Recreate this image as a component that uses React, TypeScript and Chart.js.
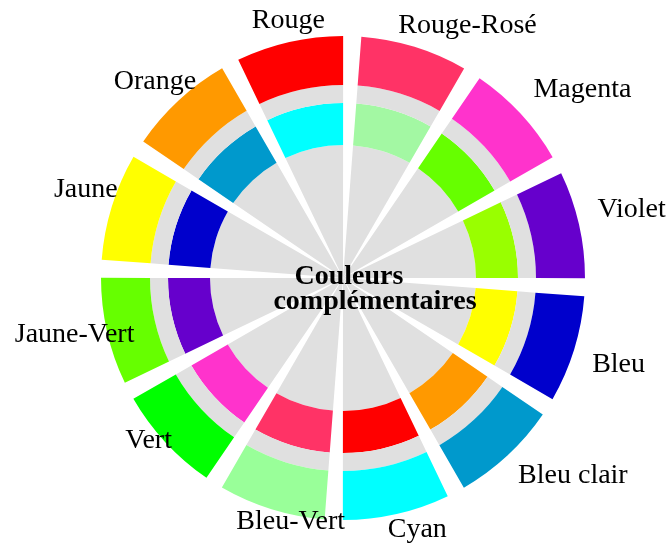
import React, { useEffect, useRef } from "react";
import { Chart, registerables } from "chart.js";

Chart.register(...registerables);

// Clockwise from the top gap
const colorNames = [
  "Rouge-Rosé", "Magenta", "Violet", "Bleu", "Bleu clair", "Cyan",
  "Bleu-Vert", "Vert", "Jaune-Vert", "Jaune", "Orange", "Rouge",
];
const outerColors = [
  "#ff3366", "#ff33cc", "#6600cc", "#0000cc", "#0099cc", "#00ffff",
  "#99ff99", "#00ff00", "#66ff00", "#ffff00", "#ff9900", "#ff0000",
];
const complementColors = [
  "#a3f8a3", "#66ff00", "#99ff00", "#ffff00", "#ff9900", "#ff0000",
  "#ff3366", "#ff33cc", "#6600cc", "#0000cc", "#0099cc", "#00ffff",
];
const sliceValues = [1, 1, 1, 1, 1, 1, 1, 1, 1, 1, 1, 1];
const gapValue = 0.168;
const titleLines = ["Couleurs", "complémentaires"];

const GREY = "#e0e0e0";
const SERIF = '"Liberation Serif", "Times New Roman", serif';
// small per-label placement nudges (px) around the computed anchor
const LABEL_NUDGE: [number, number][] = [
  [-23, -1], [-4, -10], [-4, -11], [-4, 7], [-5, 2], [-14, -8],
  [26, -11], [0, -19], [-10, -4], [-4, -12], [-8, -4], [4, -1],
];

function interleave(values: number[]) {
  const out: number[] = [];
  values.forEach((v) => {
    out.push(v);
    out.push(gapValue);
  });
  return out;
}
function colorsWithGaps(cols: string[]) {
  const out: string[] = [];
  cols.forEach((c) => {
    out.push(c);
    out.push("rgba(255,255,255,0)");
  });
  return out;
}

const labelPlugin = {
  id: "wheelLabels",
  afterDraw(chart: any) {
    const ctx = chart.ctx;
    const meta = chart.getDatasetMeta(0);
    ctx.save();
    ctx.fillStyle = "#000";
    ctx.font = `28px ${SERIF}`;
    ctx.textBaseline = "alphabetic";
    let cx = 0, cy = 0;
    colorNames.forEach((name, i) => {
      const arc: any = meta.data[i * 2];
      if (!arc) return;
      const props = arc.getProps(["x", "y", "startAngle", "endAngle", "outerRadius"], true);
      cx = props.x; cy = props.y;
      const mid = (props.startAngle + props.endAngle) / 2;
      const r = props.outerRadius + 23;
      const ax = props.x + r * Math.cos(mid);
      const ay = props.y + r * Math.sin(mid);
      const [nx, ny] = LABEL_NUDGE[i];
      ctx.textAlign = Math.cos(mid) > 0 ? "left" : "center";
      ctx.fillText(name, ax + nx, ay + 9 + ny);
    });
    ctx.font = `bold 28px ${SERIF}`;
    ctx.textAlign = "center";
    ctx.fillText(titleLines[0], cx + 6, cy + 6);
    ctx.fillText(titleLines[1], cx + 32, cy + 31);
    ctx.restore();
  },
};

export default function App() {
  const ref = useRef<HTMLCanvasElement | null>(null);
  useEffect(() => {
    if (!ref.current) return;
    const greyCols = colorNames.map(() => GREY);
    const chart = new Chart(ref.current, {
      type: "doughnut",
      data: {
        labels: interleave(sliceValues).map((_, i) => (i % 2 === 0 ? colorNames[i / 2] : "")),
        datasets: [
          { data: interleave(sliceValues), backgroundColor: colorsWithGaps(outerColors), weight: 49, borderWidth: 0 } as any,
          { data: interleave(sliceValues), backgroundColor: colorsWithGaps(greyCols), weight: 18, borderWidth: 0 } as any,
          { data: interleave(sliceValues), backgroundColor: colorsWithGaps(complementColors), weight: 42, borderWidth: 0 } as any,
          { data: interleave(sliceValues), backgroundColor: colorsWithGaps(greyCols), weight: 133, borderWidth: 0 } as any,
        ],
      },
      options: {
        responsive: true,
        maintainAspectRatio: false,
        animation: false,
        events: [],
        cutout: 0,
        rotation: 4.35,
        layout: { padding: { left: 101, right: 83, top: 36, bottom: 30 } },
        plugins: { legend: { display: false }, tooltip: { enabled: false } },
      } as any,
      plugins: [labelPlugin],
    });
    return () => chart.destroy();
  }, []);
  return (
    <div style={{ position: "absolute", left: 0, top: 0, width: 668, height: 550, background: "#fff" }}>
      <canvas ref={ref} />
    </div>
  );
}
